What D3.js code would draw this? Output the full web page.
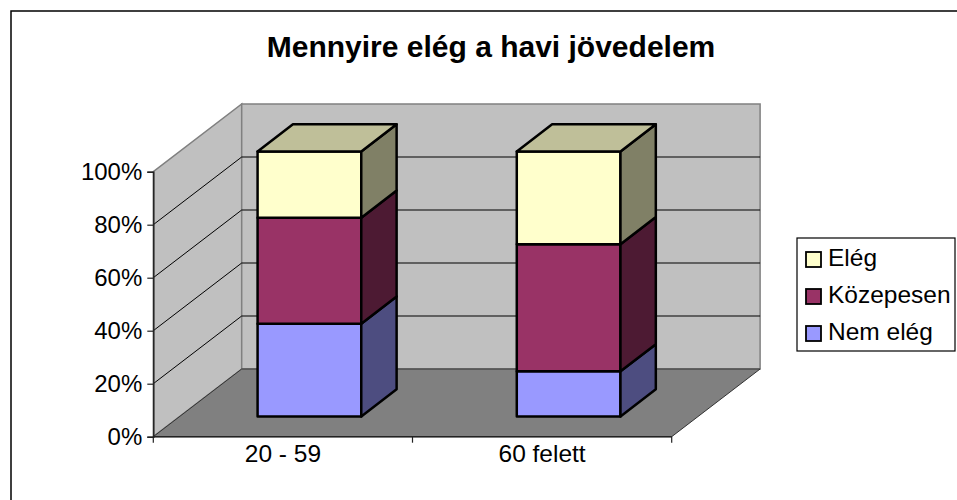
<!DOCTYPE html>
<html>
<head>
<meta charset="utf-8">
<script src="https://cdn.jsdelivr.net/npm/d3@7"></script>
<style>
  body { margin: 0; background: #fff; }
  svg { display: block; font-family: "Liberation Sans", Arial, sans-serif; }
</style>
</head>
<body>
<svg id="chart" width="957" height="500"></svg>
<script>
// data (shares per age group)
const categories = ['20 - 59', '60 felett'];
const seriesNames = ['Nem elég', 'Közepesen', 'Elég'];
const nemEleg = [0.35, 0.17];
const kozepesen = [0.40, 0.48];
const eleg = [0.25, 0.35];
const yTicks = [0, 0.2, 0.4, 0.6, 0.8, 1];

// face colours: front, side (darker), top
const colors = {
    'Nem elég': { front: '#9999FF', side: '#4D4D80', top: '#7373BF' },
    'Közepesen': { front: '#993366', side: '#4D1A33', top: '#73264D' },
    'Elég': { front: '#FFFFCC', side: '#808066', top: '#BFBF99' }
};

const svg = d3.select('#chart');

// outer chart border (cut off at right/bottom like the reference)
svg.append('rect')
    .attr('x', 11).attr('y', 11)
    .attr('width', 980).attr('height', 520)
    .attr('fill', '#fff')
    .attr('stroke', '#000')
    .attr('stroke-width', 1.5);

// 3d plot geometry
const x0 = 153.3, y0 = 436.7;      // front floor origin
const plotW = 518.4, plotH = 265;
const DX = 88.4, DY = 67.7;          // depth offset of back wall

const x = d3.scaleBand()
    .domain(categories)
    .range([0, plotW])
    .paddingInner(0.6)
    .paddingOuter(0.3);

const y = d3.scaleLinear().domain([0, 1]).range([0, plotH]);

// project (xv, value, depth 0..1) to screen
const P = (xv, v, z) => [x0 + xv + z * DX, y0 - y(v) - z * DY];
const poly = pts => pts.map(p => p.join(',')).join(' ');

// walls and floor
const wallFill = '#C0C0C0', edge = '#808080';
svg.append('polygon')
    .attr('points', poly([P(0, 0, 0), P(0, 1, 0), P(0, 1, 1), P(0, 0, 1)]))
    .attr('fill', wallFill).attr('stroke', edge).attr('stroke-width', 1.5);
svg.append('polygon')
    .attr('points', poly([P(0, 0, 1), P(0, 1, 1), P(plotW, 1, 1), P(plotW, 0, 1)]))
    .attr('fill', wallFill).attr('stroke', edge).attr('stroke-width', 1.5);
svg.append('polygon')
    .attr('points', poly([P(0, 0, 0), P(0, 0, 1), P(plotW, 0, 1), P(plotW, 0, 0)]))
    .attr('fill', '#808080').attr('stroke', '#333').attr('stroke-width', 1);

// gridlines on side and back walls
const grid = svg.append('g').attr('stroke', '#000').attr('stroke-width', 1);
yTicks.filter(t => t > 0 && t < 1).forEach(t => {
    const a = P(0, t, 0), b = P(0, t, 1), c = P(plotW, t, 1);
    grid.append('polyline').attr('points', poly([a, b, c])).attr('fill', 'none');
});

// y axis
const yAxisScale = d3.scaleLinear().domain([0, 1]).range([y0, y0 - plotH]);
const yAxis = svg.append('g')
    .attr('transform', `translate(${x0},0)`)
    .call(d3.axisLeft(yAxisScale).tickValues(yTicks).tickFormat(d3.format('.0%')).tickSize(6).tickPadding(5));
yAxis.select('.domain').attr('stroke', '#222').attr('stroke-width', 1.5);
yAxis.selectAll('.tick line').attr('stroke', '#222').attr('stroke-width', 1.2);
yAxis.selectAll('.tick text')
    .attr('font-size', 24)
    .attr('font-family', '"Liberation Sans", Arial, sans-serif')
    .attr('fill', '#000');

// x axis line with ticks at category boundaries
const xAxisG = svg.append('g');
xAxisG.append('line')
    .attr('x1', x0).attr('x2', x0 + plotW)
    .attr('y1', y0).attr('y2', y0)
    .attr('stroke', '#222').attr('stroke-width', 1.5);
const bounds = [0, x.step(), 2 * x.step()];
xAxisG.selectAll('.xtick')
    .data(bounds)
    .enter().append('line')
    .attr('x1', d => x0 + d).attr('x2', d => x0 + d)
    .attr('y1', y0).attr('y2', y0 + 6)
    .attr('stroke', '#222').attr('stroke-width', 1.2);
xAxisG.selectAll('.xlabel')
    .data(categories)
    .enter().append('text')
    .attr('x', d => x0 + x(d) + x.bandwidth() / 2)
    .attr('y', 462)
    .attr('text-anchor', 'middle')
    .attr('font-size', 24.5)
    .text(d => d);

// stacked 3d bars
const rows = categories.map((c, i) => ({
    cat: c, 'Nem elég': nemEleg[i], 'Közepesen': kozepesen[i], 'Elég': eleg[i]
}));
const stacked = d3.stack().keys(seriesNames)(rows);
const zf = 0.3, zb = 0.7;   // bar front/back depth

const bars = svg.append('g')
    .attr('stroke', '#000')
    .attr('stroke-width', 2.5)
    .attr('stroke-linejoin', 'round');

categories.forEach((cat, ci) => {
    const xl = x(cat), xr = x(cat) + x.bandwidth();
    stacked.forEach((layer, li) => {
        const [v0, v1] = layer[ci];
        const col = colors[layer.key];
        bars.append('polygon')
            .attr('points', poly([P(xl, v0, zf), P(xr, v0, zf), P(xr, v1, zf), P(xl, v1, zf)]))
            .attr('fill', col.front);
        bars.append('polygon')
            .attr('points', poly([P(xr, v0, zf), P(xr, v0, zb), P(xr, v1, zb), P(xr, v1, zf)]))
            .attr('fill', col.side);
        if (li === stacked.length - 1) {
            bars.append('polygon')
                .attr('points', poly([P(xl, v1, zf), P(xr, v1, zf), P(xr, v1, zb), P(xl, v1, zb)]))
                .attr('fill', col.top);
        }
    });
});

// title
svg.append('text')
    .attr('x', 491)
    .attr('y', 57)
    .attr('text-anchor', 'middle')
    .attr('font-size', 30)
    .attr('font-weight', 'bold')
    .text('Mennyire elég a havi jövedelem');

// legend (top entry = last series)
const legend = svg.append('g').attr('transform', 'translate(797,238)');
legend.append('rect')
    .attr('width', 158).attr('height', 113)
    .attr('fill', '#fff').attr('stroke', '#000').attr('stroke-width', 1.2);
const legendItems = legend.selectAll('.legend-item')
    .data(seriesNames.slice().reverse())
    .enter().append('g')
    .attr('class', 'legend-item')
    .attr('transform', (d, i) => `translate(0, ${i * 37})`);
legendItems.append('rect')
    .attr('x', 9).attr('y', 14)
    .attr('width', 15).attr('height', 15)
    .attr('fill', d => colors[d].front)
    .attr('stroke', '#000').attr('stroke-width', 1.8);
legendItems.append('text')
    .attr('x', 31).attr('y', 28)
    .attr('font-size', 24.5)
    .text(d => d);
</script>
</body>
</html>
